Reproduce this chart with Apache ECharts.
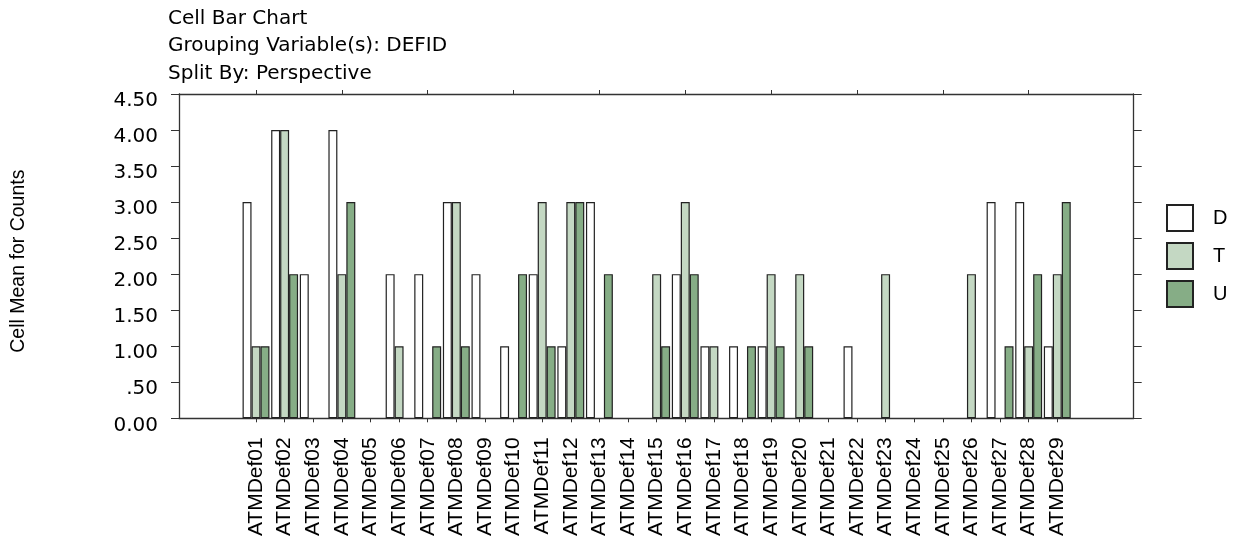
<!DOCTYPE html>
<html>
<head>
<meta charset="utf-8">
<script src="https://cdn.jsdelivr.net/npm/echarts@6/dist/echarts.min.js"></script>
<style>
  html, body { margin: 0; padding: 0; background: #fff; }
  #chart { width: 1236px; height: 547px; }
</style>
</head>
<body>
<div id="chart"></div>
<script>
// Defect categories
const categories = [
  'ATMDef01','ATMDef02','ATMDef03','ATMDef04','ATMDef05','ATMDef06','ATMDef07',
  'ATMDef08','ATMDef09','ATMDef10','ATMDef11','ATMDef12','ATMDef13','ATMDef14',
  'ATMDef15','ATMDef16','ATMDef17','ATMDef18','ATMDef19','ATMDef20','ATMDef21',
  'ATMDef22','ATMDef23','ATMDef24','ATMDef25','ATMDef26','ATMDef27','ATMDef28',
  'ATMDef29'
];

// Cell means per perspective
const valuesD = [3,4,2,4,0,2,2,3,2,1,2,1,3,0,0,2,1,1,1,0,0,1,0,0,0,0,3,3,1];
const valuesT = [1,4,0,2,0,1,0,3,0,0,3,3,0,0,2,3,1,0,2,2,0,0,2,0,0,2,0,1,2];
const valuesU = [1,2,0,3,0,0,1,1,0,2,1,3,2,0,1,2,0,1,1,1,0,0,0,0,0,0,1,2,3];

// Value-axis tick labels
const yTickLabels = ['0.00','.50','1.00','1.50','2.00','2.50','3.00','3.50','4.00','4.50'];

const titleLines = ['Cell Bar Chart', 'Grouping Variable(s): DEFID', 'Split By: Perspective'];

const seriesMeta = [
  { name: 'D', values: valuesD, color: '#ffffff' },
  { name: 'T', values: valuesT, color: '#c4d8c3' },
  { name: 'U', values: valuesU, color: '#86ad86' }
];

const LINE = '#333333';
const frame = { left: 179, right: 102.3, top: 94, bottom: 128.7 };
const inner = { left: 241.7, right: 164.4, top: 94, bottom: 128.7 };

const frameLine = { show: true, onZero: false, lineStyle: { color: LINE, width: 1.3 } };

const chart = echarts.init(document.getElementById('chart'));

chart.setOption({
  animation: false,
  backgroundColor: '#ffffff',
  title: {
    text: titleLines.join('\n'),
    left: 163,
    top: 0,
    textStyle: {
      fontFamily: 'DejaVu Sans',
      fontSize: 20,
      fontWeight: 'normal',
      color: '#000',
      lineHeight: 27.5
    }
  },
  legend: {
    orient: 'vertical',
    left: 1161,
    top: 199,
    itemWidth: 26,
    itemHeight: 26,
    itemGap: 10,
    icon: 'rect',
    selectedMode: false,
    textStyle: {
      fontFamily: 'Liberation Sans',
      fontSize: 20,
      color: '#000',
      padding: [0, 0, 0, 15]
    },
    data: seriesMeta.map(s => s.name)
  },
  grid: [
    Object.assign({}, frame),
    Object.assign({}, inner)
  ],
  xAxis: [
    // frame: bottom and top border lines
    {
      gridIndex: 0, type: 'value', min: 0, max: 1, position: 'bottom',
      axisLine: frameLine,
      axisTick: { show: false }, axisLabel: { show: false }, splitLine: { show: false }
    },
    {
      gridIndex: 0, type: 'value', min: 0, max: 1, position: 'top',
      axisLine: frameLine,
      axisTick: { show: false }, axisLabel: { show: false }, splitLine: { show: false }
    },
    // category axes for the bars
    {
      gridIndex: 1, type: 'category', data: categories, position: 'bottom',
      axisLine: { show: false },
      axisTick: { show: true, alignWithLabel: true, length: 4, lineStyle: { color: LINE } },
      axisLabel: {
        interval: 0, rotate: 90, margin: 19,
        fontFamily: 'Liberation Sans', fontSize: 21, color: '#000'
      },
      splitLine: { show: false }
    },
    {
      gridIndex: 1, type: 'category', data: categories, position: 'top',
      axisLine: { show: false },
      axisTick: { show: true, alignWithLabel: true, length: 4, lineStyle: { color: LINE } },
      axisLabel: { show: false },
      splitLine: { show: false }
    }
  ],
  yAxis: [
    {
      gridIndex: 0, type: 'value', min: 0, max: 4.5, interval: 0.5, position: 'left',
      name: 'Cell Mean for Counts',
      nameLocation: 'middle',
      nameGap: 150,
      nameTextStyle: { fontFamily: 'Liberation Sans', fontSize: 19.5, color: '#000', padding: [0, 10, 0, 0] },
      axisLine: frameLine,
      axisTick: { show: true, length: 8, lineStyle: { color: LINE } },
      axisLabel: {
        margin: 21,
        fontFamily: 'DejaVu Sans', fontSize: 20, color: '#000',
        verticalAlign: 'top',
        lineHeight: 14,
        formatter: (v) => yTickLabels[Math.round(v / 0.5)]
      },
      splitLine: { show: false }
    },
    {
      gridIndex: 0, type: 'value', min: 0, max: 4.5, interval: 0.5, position: 'right',
      axisLine: frameLine,
      axisTick: { show: true, length: 8, lineStyle: { color: LINE } },
      axisLabel: { show: false },
      splitLine: { show: false }
    },
    {
      gridIndex: 1, type: 'value', min: 0, max: 4.5, interval: 0.5,
      show: false
    }
  ],
  series: seriesMeta.map(s => ({
    name: s.name,
    type: 'bar',
    xAxisIndex: 2,
    yAxisIndex: 2,
    barGap: '0%',
    barCategoryGap: '6%',
    itemStyle: { color: s.color, borderColor: '#222', borderWidth: 1.2 },
    data: s.values.map(v => (v === 0 ? '-' : v))
  }))
});
</script>
</body>
</html>
